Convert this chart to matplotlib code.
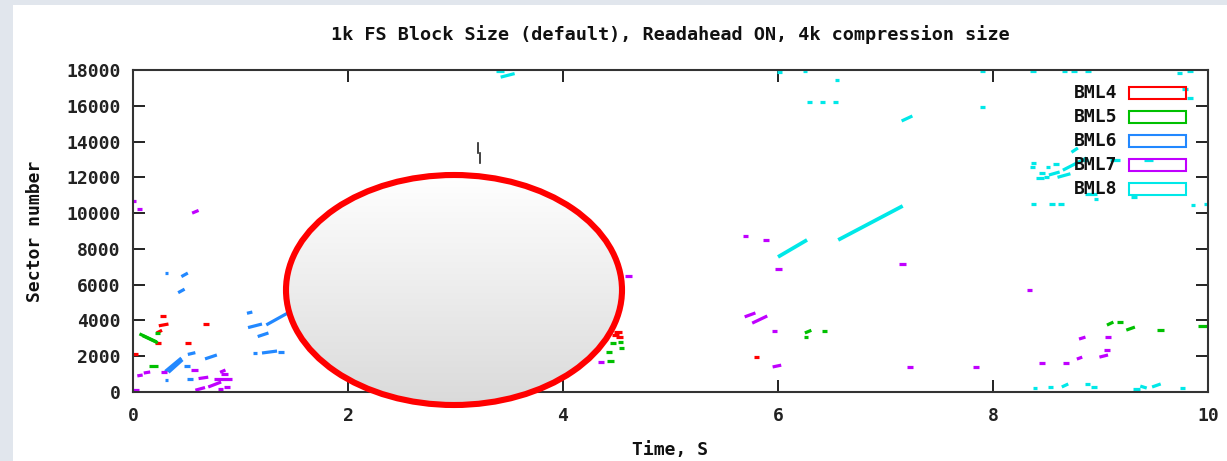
import numpy as np
import matplotlib
matplotlib.use("Agg")
import matplotlib.pyplot as plt
from matplotlib.patches import Ellipse, Rectangle
from matplotlib.colors import LinearSegmentedColormap

plt.rcParams['font.family'] = ['DejaVu Sans Mono']
plt.rcParams['font.weight'] = 'bold'

# each request: (t_start, t_end, sector_start, sector_end)
bml4 = [
    (0.00, 0.05, 2100, 2100), (0.25, 0.31, 4250, 4250), (0.24, 0.33, 3700, 3800),
    (0.22, 0.27, 3300, 3450), (0.20, 0.26, 2730, 2730), (0.48, 0.54, 2730, 2730),
    (0.65, 0.71, 3800, 3800), (4.47, 4.55, 3350, 3350), (4.49, 4.56, 3070, 3070),
    (4.46, 4.52, 3200, 3200), (5.78, 5.82, 1950, 1950),
]
bml5 = [
    (0.06, 0.22, 3250, 2800), (0.09, 0.23, 3150, 2750), (0.20, 0.25, 3300, 3300),
    (0.15, 0.23, 1450, 1450), (4.44, 4.49, 2740, 2740), (4.51, 4.56, 2790, 2790),
    (4.52, 4.57, 2460, 2460), (4.40, 4.46, 2240, 2240), (4.41, 4.47, 1730, 1730),
    (6.25, 6.31, 3300, 3450), (6.24, 6.28, 3070, 3070), (6.41, 6.46, 3400, 3400),
    (9.06, 9.12, 3740, 3910), (9.15, 9.21, 3910, 3910), (9.24, 9.32, 3460, 3630),
    (9.53, 9.59, 3460, 3460), (9.91, 10.0, 3690, 3690),
]
bml6 = [
    (0.30, 0.33, 6650, 6650), (0.45, 0.51, 6450, 6650), (0.42, 0.48, 5550, 5750),
    (0.30, 0.45, 1150, 1900), (0.33, 0.46, 1100, 1800), (0.51, 0.58, 2100, 2200),
    (0.67, 0.78, 1850, 2070), (0.47, 0.53, 1450, 1450), (0.30, 0.33, 650, 650),
    (0.50, 0.56, 730, 730), (1.06, 1.11, 4400, 4470), (1.07, 1.20, 3600, 3800),
    (1.24, 1.45, 3750, 4450), (1.16, 1.26, 3100, 3300), (1.12, 1.15, 2180, 2180),
    (1.20, 1.34, 2180, 2290), (1.35, 1.40, 2240, 2240),
]
bml7 = [
    (0.00, 0.03, 10680, 10680), (0.04, 0.08, 10230, 10230), (0.55, 0.61, 10000, 10150),
    (0.04, 0.09, 900, 950), (0.10, 0.16, 1060, 1120), (0.26, 0.32, 1100, 1100),
    (0.54, 0.60, 1230, 1230), (0.61, 0.70, 750, 830), (0.00, 0.06, 110, 110),
    (0.58, 0.67, 100, 250), (0.81, 0.86, 1100, 1230), (0.82, 0.88, 1000, 1000),
    (0.75, 0.92, 730, 730), (0.70, 0.82, 280, 560), (0.79, 0.84, 170, 170),
    (0.85, 0.90, 280, 280), (4.58, 4.64, 6480, 6480), (4.33, 4.38, 1680, 1680),
    (5.67, 5.72, 8720, 8720), (5.86, 5.92, 8500, 8500), (5.97, 6.04, 6870, 6870),
    (5.69, 5.79, 4200, 4420), (5.76, 5.90, 3850, 4250), (5.94, 5.99, 3400, 3400),
    (5.95, 6.03, 1400, 1500), (7.13, 7.19, 7170, 7170), (7.20, 7.26, 1400, 1400),
    (7.81, 7.87, 1400, 1400), (8.32, 8.36, 5700, 5700), (8.43, 8.48, 1620, 1620),
    (8.65, 8.71, 1620, 1620), (8.78, 8.83, 1840, 1950), (8.99, 9.07, 1950, 2070),
    (9.03, 9.09, 2350, 2350), (8.80, 8.86, 2960, 3070), (9.04, 9.10, 3070, 3070),
]
bml8 = [
    (3.38, 3.45, 17950, 17950), (3.42, 3.55, 17600, 17800), (5.99, 6.04, 17900, 17900),
    (6.23, 6.27, 17950, 17950), (6.53, 6.57, 17440, 17440), (6.27, 6.32, 16200, 16200),
    (6.39, 6.44, 16200, 16200), (6.51, 6.56, 16200, 16200), (7.15, 7.25, 15150, 15430),
    (6.56, 7.16, 8500, 10400), (6.00, 6.27, 7550, 8500), (7.88, 7.93, 17950, 17950),
    (7.88, 7.93, 15930, 15930), (8.34, 8.40, 17950, 17950), (8.64, 8.69, 17950, 17950),
    (8.73, 8.78, 17950, 17950), (8.86, 8.91, 17950, 17950), (9.71, 9.76, 17850, 17850),
    (9.80, 9.86, 17950, 17950), (9.76, 9.81, 16940, 16940), (9.80, 9.86, 16430, 16430),
    (8.35, 8.40, 12800, 12800), (8.34, 8.39, 12580, 12580), (8.49, 8.53, 12580, 12580),
    (8.56, 8.61, 12750, 12750), (8.43, 8.48, 12240, 12240), (8.52, 8.62, 12130, 12300),
    (8.40, 8.47, 11960, 11960), (8.47, 8.52, 12020, 12020), (8.60, 8.72, 12000, 12200),
    (8.65, 8.87, 12400, 13080), (8.73, 8.79, 13400, 13640), (8.81, 8.88, 12970, 12970),
    (9.09, 9.18, 12970, 12970), (9.40, 9.49, 12970, 12970), (8.86, 8.97, 11060, 11060),
    (8.94, 8.98, 10790, 10790), (9.28, 9.34, 10900, 10900), (8.35, 8.40, 10510, 10510),
    (8.52, 8.58, 10510, 10510), (8.60, 8.66, 10510, 10510), (9.84, 9.88, 10450, 10450),
    (9.96, 10.0, 10510, 10510), (8.37, 8.41, 220, 220), (8.51, 8.56, 280, 280),
    (8.64, 8.70, 280, 450), (8.86, 8.90, 450, 450), (8.91, 8.97, 280, 280),
    (9.30, 9.37, 170, 170), (9.37, 9.43, 330, 220), (9.48, 9.56, 280, 450),
    (9.74, 9.79, 220, 220),
]
stray = [(3.21, 3.21, 13900, 13350), (3.225, 3.225, 13350, 12800)]

series = ['BML4', 'BML5', 'BML6', 'BML7', 'BML8']
requests = [bml4, bml5, bml6, bml7, bml8]
colors = ['#ff0000', '#00c000', '#2288ff', '#c000ff', '#00e8e8']

W, H = 1227, 461
fig = plt.figure(figsize=(W / 100, H / 100), dpi=100)
fig.patch.set_facecolor('white')

ax = fig.add_axes([133 / W, 1 - 392 / H, (1208 - 133) / W, (392 - 70) / H])
for segs, c in zip(requests, colors):
    for t0, t1, s0, s1 in segs:
        lw = 2.7 if t1 - t0 > 0.25 else 2.3
        ax.plot([t0, t1], [s0, s1], color=c, lw=lw, solid_capstyle='butt')
for t0, t1, s0, s1 in stray:
    ax.plot([t0, t1], [s0, s1], color='#222222', lw=1.2)

ax.set_xlim(0, 10)
ax.set_ylim(0, 18000)
ax.set_xticks(np.arange(0, 11, 2))
ax.set_yticks(np.arange(0, 18001, 2000))
ax.tick_params(direction='in', length=8.5, width=1.4, top=True, right=True,
               labelsize=13, colors='#222222')
ax.tick_params(axis='x', pad=11)
ax.tick_params(axis='y', pad=9)
for sp in ax.spines.values():
    sp.set_linewidth(1.5)
    sp.set_color('#333333')

fig.text(670 / W, 1 - 35 / H, '1k FS Block Size (default), Readahead ON, 4k compression size',
         ha='center', va='center', fontsize=13.3, color='#111111')
fig.text(670 / W, 1 - 450 / H, 'Time, S', ha='center', va='center', fontsize=13, color='#111111')
fig.text(35 / W, 1 - 231 / H, 'Sector number', ha='center', va='center', rotation=90,
         fontsize=13, color='#111111')

# overlay in pixel units: slide edges, legend, highlight ellipse
ov = fig.add_axes([0, 0, 1, 1])
ov.set_xlim(0, W)
ov.set_ylim(H, 0)
ov.axis('off')
ov.patch.set_alpha(0)
ov.set_zorder(5)
ov.add_patch(Rectangle((0, 0), 13, H, color='#e1e6ed', lw=0))
ov.add_patch(Rectangle((0, 0), W, 5, color='#e1e6ed', lw=0))

for i, (name, c) in enumerate(zip(series, colors)):
    y = 93 + 24 * i
    ov.text(1117, y, name, ha='right', va='center', fontsize=13, color='#111111')
    ov.add_patch(Rectangle((1129, y - 6), 57, 12, fill=False, edgecolor=c, lw=1.5))

cx, cy, w, h = 454, 290, 336, 230
oval = Ellipse((cx, cy), w, h, facecolor='none', edgecolor='none')
ov.add_patch(oval)
shade = LinearSegmentedColormap.from_list('shade', ['#ffffff', '#dadada'])
img = ov.imshow(np.linspace(0, 1, 256).reshape(-1, 1), cmap=shade, aspect='auto',
                extent=(cx - w / 2, cx + w / 2, cy + h / 2, cy - h / 2), zorder=2)
img.set_clip_path(oval)
ov.add_patch(Ellipse((cx, cy), w, h, facecolor='none', edgecolor='#ff0000', lw=4.4, zorder=3))
ov.set_xlim(0, W)
ov.set_ylim(H, 0)

fig.savefig('out.png', dpi=100)
